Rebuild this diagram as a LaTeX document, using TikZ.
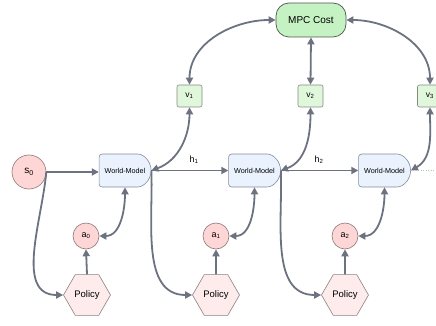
\documentclass[tikz,border=0pt]{standalone}
\usepackage{fontspec}
\setmainfont{Liberation Sans}
\usetikzlibrary{shapes.misc,shapes.geometric,arrows.meta}
\definecolor{arr}{RGB}{108,114,128}
\definecolor{circfill}{RGB}{255,214,214}
\definecolor{circdraw}{RGB}{140,120,120}
\definecolor{hexfill}{RGB}{253,236,235}
\definecolor{hexdraw}{RGB}{140,130,130}
\definecolor{wmfill}{RGB}{233,242,253}
\definecolor{wmdraw}{RGB}{130,140,158}
\definecolor{vfill}{RGB}{225,247,220}
\definecolor{vdraw}{RGB}{130,138,130}
\definecolor{mpcfill}{RGB}{197,242,194}
\definecolor{mpcdraw}{RGB}{80,85,80}
\begin{document}
\begin{tikzpicture}[x=1pt,y=-1pt,
  conn/.style={draw=arr, line width=1.8pt, -{Triangle[length=7pt,width=7pt]}},
  dconn/.style={draw=arr, line width=1.8pt, {Triangle[length=7pt,width=7pt]}-{Triangle[length=7pt,width=7pt]}},
  circ/.style={circle, draw=circdraw, fill=circfill, line width=0.6pt, inner sep=0pt},
  hexa/.style={regular polygon, regular polygon sides=6, draw=hexdraw, fill=hexfill, line width=0.6pt, minimum size=47pt, inner sep=0pt, font=\fontsize{9.5}{11}\selectfont},
  wm/.style={rounded rectangle, rounded rectangle left arc=none, rounded corners=3pt, draw=wmdraw, fill=wmfill, line width=0.6pt, minimum width=52pt, minimum height=33pt, inner sep=0pt, font=\fontsize{7.2}{8}\selectfont},
  vbox/.style={rectangle, rounded corners=2pt, draw=vdraw, fill=vfill, line width=0.6pt, minimum width=25pt, minimum height=22pt, inner sep=0pt, font=\fontsize{8.5}{10}\selectfont},
  mpc/.style={rectangle, rounded corners=13pt, draw=mpcdraw, fill=mpcfill, line width=0.7pt, minimum width=70pt, minimum height=34pt, inner sep=0pt, font=\fontsize{10}{12}\selectfont},
  lab/.style={font=\fontsize{9}{11}\selectfont, inner sep=0pt}
]
\useasboundingbox (0,0) rectangle (436,326);

\node[mpc] (mpc) at (311,20) {MPC Cost};
\node[vbox] (v1) at (189.5,96) {v\textsubscript{1}};
\node[vbox] (v2) at (310.5,96) {v\textsubscript{2}};
\node[vbox] (v3) at (430,96) {v\textsubscript{3}};

\node[wm] (wm1) at (125,170.5) {World-Model};
\node[wm] (wm2) at (254.5,170.5) {World-Model};
\node[wm] (wm3) at (384.5,170.5) {World-Model};

\node[circ, minimum size=34pt, font=\fontsize{10}{12}\selectfont] (s0) at (29,172) {s\textsubscript{0}};
\node[circ, minimum size=26pt, font=\fontsize{9}{11}\selectfont] (a0) at (86,236) {a\textsubscript{0}};
\node[circ, minimum size=26pt, font=\fontsize{9}{11}\selectfont] (a1) at (216,236) {a\textsubscript{1}};
\node[circ, minimum size=26pt, font=\fontsize{9}{11}\selectfont] (a2) at (345,236) {a\textsubscript{2}};

\node[hexa] (p0) at (87,295) {Policy};
\node[hexa] (p1) at (216,295) {Policy};
\node[hexa] (p2) at (345,295) {Policy};

\node[lab] (h1) at (194,160) {h\textsubscript{1}};
\node[lab] (h2) at (319,160) {h\textsubscript{2}};
\coordinate (edge) at (436,170.5);

% top
\draw[dconn] (v1.north) to[out=90,in=180] (mpc.west);
\draw[dconn] (mpc.east) to[out=0,in=90] (v3.north);
\draw[dconn] (mpc.south) -- (v2.north);

% v to wm
\draw[dconn] (wm1.east) to[out=20,in=-90] (v1.south);
\draw[dconn] (wm2.east) to[out=20,in=-90] (v2.south);
\draw[dconn] (wm3.east) to[out=30,in=-90] (v3.south);

% horizontal
\draw[conn] (s0.east) -- (s0.east -| wm1.west);
\draw[conn] (wm1.east) -- (wm2.west);
\draw[conn] (wm2.east) -- (wm3.west);
\draw[draw=black!25, dotted, line width=0.5pt] (wm3.east) -- (edge);

% to policies
\draw[conn] (s0.east) to[out=-95,in=180] (p0.west);
\draw[conn] (wm1.east) to[out=-88,in=180] (p1.west);
\draw[conn] (wm2.east) to[out=-88,in=180] (p2.west);

% policy to action
\draw[conn] (p0.north) -- (a0.south);
\draw[conn] (p1.north) -- (a1.south);
\draw[conn] (p2.north) -- (a2.south);

% wm to action
\draw[dconn] (wm1.south) to[out=-90,in=0] (a0.east);
\draw[dconn] (wm2.south) to[out=-90,in=0] (a1.east);
\draw[dconn] (wm3.south) to[out=-90,in=0] (a2.east);
\end{tikzpicture}
\end{document}
